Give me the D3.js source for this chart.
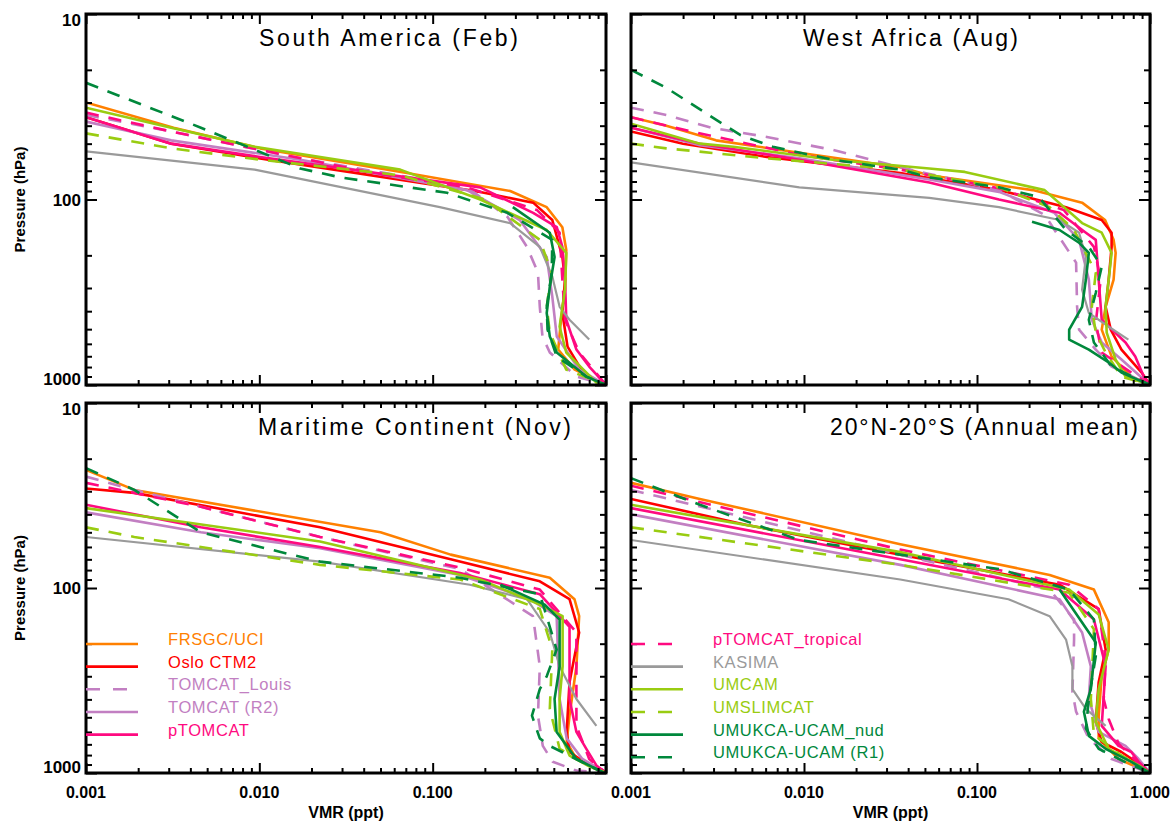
<!DOCTYPE html>
<html>
<head>
<meta charset="utf-8">
<script src="https://cdn.jsdelivr.net/npm/d3@7"></script>
<style>
  body { margin: 0; background: #fff; }
  text { font-family: "Liberation Sans", Arial, sans-serif; }
</style>
</head>
<body>
<div id="chart"></div>
<script>
//----------------------- data -----------------------
var seriesNames = ["FRSGC/UCI", "Oslo CTM2", "TOMCAT_Louis", "TOMCAT (R2)", "pTOMCAT",
  "pTOMCAT_tropical", "KASIMA", "UMCAM", "UMSLIMCAT", "UMUKCA-UCAM_nud", "UMUKCA-UCAM (R1)"];

var panelTitles = ["South America (Feb)", "West Africa (Aug)", "Maritime Continent (Nov)", "20°N-20°S (Annual mean)"];

var pressureTicks = [10, 100, 1000];
var vmrTicks = [0.001, 0.01, 0.1, 1];
var vmrTickLabels = ["0.001", "0.010", "0.100", "1.000"];

// profiles as [VMR (ppt), pressure (hPa)], same order as seriesNames
var southAmericaFeb = [
  [[0.001,30],[0.0032,41],[0.0101,53],[0.071,72],[0.28,90],[0.455,110],[0.56,141],[0.59,187],[0.58,306],[0.55,445],[0.53,644],[0.66,826],[1.0,1000]],
  [[0.001,36],[0.0031,50],[0.0101,60],[0.188,91],[0.38,104],[0.49,129],[0.56,204],[0.58,270],[0.56,409],[0.6,621],[0.75,879],[1.0,1000]],
  [[0.001,35],[0.0031,43],[0.0172,60],[0.158,86],[0.27,124],[0.35,180],[0.405,248],[0.415,379],[0.43,548],[0.474,668],[0.675,901],[1.0,1000]],
  [[0.001,38],[0.0031,48],[0.0172,61],[0.158,89],[0.318,129],[0.455,204],[0.49,334],[0.52,548],[0.7,826],[1.0,1000]],
  [[0.001,36],[0.0031,50],[0.0101,59],[0.188,86],[0.38,118],[0.52,141],[0.56,180],[0.58,270],[0.59,445],[0.675,644],[0.8,795],[1.0,1000]],
  [[0.001,34],[0.0031,43],[0.045,72],[0.158,86],[0.4,114],[0.54,151],[0.56,270],[0.58,445],[0.7,668],[1.0,1000]],
  [[0.001,55],[0.0094,69],[0.11,110],[0.28,134],[0.415,180],[0.49,260],[0.54,379],[0.616,445],[0.8,569]],
  [[0.001,32],[0.0031,41],[0.0094,52],[0.065,69],[0.188,100],[0.455,146],[0.59,194],[0.58,306],[0.54,485],[0.59,668],[0.88,970],[1.0,1000]],
  [[0.001,44],[0.0031,53],[0.0101,61],[0.065,74],[0.2,100],[0.415,165],[0.486,248],[0.455,379],[0.474,522],[0.59,826],[1.0,1000]],
  [[0.29,110],[0.474,151],[0.505,204],[0.474,295],[0.455,409],[0.474,548],[0.52,668],[0.77,901],[1.0,1000]],
  [[0.001,23.5],[0.0046,41],[0.0172,68],[0.0293,76],[0.121,92],[0.27,118],[0.49,165],[0.486,248],[0.455,379],[0.46,503],[0.52,703],[0.77,901],[1.0,1000]]
];

var westAfricaAug = [
  [[0.001,36],[0.0016,40],[0.0031,48],[0.0094,56],[0.036,67],[0.053,74],[0.21,89],[0.405,104],[0.55,129],[0.616,165],[0.633,194],[0.616,270],[0.554,379],[0.526,503],[0.6,703],[0.78,901],[1.0,1000]],
  [[0.001,43],[0.002,50],[0.0061,59],[0.036,72],[0.134,89],[0.327,110],[0.526,129],[0.6,151],[0.6,180],[0.577,270],[0.554,379],[0.593,503],[0.684,644],[0.895,857],[1.0,1000]],
  [[0.001,32],[0.0016,35],[0.0029,41],[0.0061,46],[0.0146,54],[0.036,67],[0.134,89],[0.246,121],[0.374,219],[0.379,379],[0.389,503],[0.486,644],[0.6,795],[1.0,1000]],
  [[0.001,41],[0.0025,51],[0.0094,60],[0.053,78],[0.134,91],[0.28,118],[0.389,165],[0.443,270],[0.461,445],[0.526,590],[0.684,729],[1.0,1000]],
  [[0.001,41],[0.0025,50],[0.0094,61],[0.053,81],[0.134,100],[0.3,118],[0.426,151],[0.486,165],[0.505,270],[0.526,445],[0.722,590],[0.822,703],[0.92,901],[1.0,1000]],
  [[0.001,36],[0.002,42],[0.0094,57.5],[0.036,69],[0.134,87],[0.318,114],[0.474,180],[0.519,270],[0.486,461],[0.526,668],[0.78,857],[1.0,1000]],
  [[0.001,63],[0.0094,86],[0.053,98],[0.134,110],[0.3,129],[0.389,151],[0.426,204],[0.405,306],[0.443,409],[0.577,485],[0.75,569]],
  [[0.001,39],[0.0025,50],[0.0039,52],[0.0146,61],[0.053,68],[0.085,71],[0.246,89],[0.405,134],[0.526,151],[0.6,194],[0.577,270],[0.554,379],[0.562,522],[0.633,729],[0.722,901],[1.0,1000]],
  [[0.001,50],[0.0016,53],[0.0061,60],[0.036,69],[0.134,86],[0.263,110],[0.364,146],[0.486,248],[0.461,379],[0.486,522],[0.554,668],[0.684,901],[1.0,1000]],
  [[0.208,132],[0.3,146],[0.389,171],[0.443,194],[0.426,270],[0.405,379],[0.341,503],[0.341,569],[0.443,644],[0.577,756],[0.684,857],[1.0,1000]],
  [[0.001,20],[0.0016,25],[0.003,36.4],[0.0043,45],[0.0066,52],[0.0146,61],[0.036,69],[0.053,76],[0.134,86],[0.228,97],[0.263,114],[0.327,146],[0.443,180],[0.526,230],[0.486,318],[0.443,445],[0.474,590],[0.6,795],[1.0,1000]]
];

var maritimeNov = [
  [[0.001,23],[0.0019,29.5],[0.05,50],[0.127,66],[0.474,88],[0.658,115],[0.7,142],[0.675,265],[0.616,490],[0.593,680],[0.675,840],[0.92,950],[1.0,1000]],
  [[0.001,29],[0.0019,30.6],[0.0224,47],[0.127,70],[0.415,92],[0.616,115],[0.7,174],[0.616,323],[0.593,600],[0.616,770],[0.8,910],[1.0,1000]],
  [[0.001,25],[0.0019,29.5],[0.0224,53],[0.144,79],[0.379,142],[0.415,265],[0.405,490],[0.432,714],[0.493,870],[0.675,970],[1.0,1000]],
  [[0.001,39],[0.0046,50],[0.0224,61],[0.144,85],[0.364,115],[0.519,142],[0.54,398],[0.593,650],[0.731,840],[1.0,1000]],
  [[0.001,35.5],[0.0046,47],[0.0224,60],[0.144,83],[0.415,108],[0.616,162],[0.616,398],[0.675,600],[0.77,740],[0.88,910],[1.0,1000]],
  [[0.001,27],[0.0046,36.4],[0.0224,53],[0.144,77.5],[0.415,102],[0.675,174],[0.675,556],[0.8,840],[1.0,1000]],
  [[0.001,53],[0.0224,72],[0.164,96],[0.35,115],[0.474,174],[0.54,265],[0.675,398],[0.88,556]],
  [[0.001,37],[0.0224,56],[0.188,90],[0.415,123],[0.562,142],[0.562,265],[0.54,398],[0.54,600],[0.616,805],[0.8,920],[1.0,1000]],
  [[0.001,47],[0.0019,53],[0.0224,75],[0.144,90],[0.415,130],[0.49,215],[0.474,450],[0.54,740],[0.8,920],[1.0,1000]],
  [[0.246,96],[0.443,123],[0.54,148],[0.54,265],[0.505,398],[0.519,600],[0.675,840],[0.956,990],[1.0,1000]],
  [[0.001,22.5],[0.0019,29.5],[0.0046,50],[0.0101,60],[0.0224,72],[0.144,88],[0.415,108],[0.474,162],[0.519,215],[0.455,300],[0.415,352],[0.374,490],[0.415,650],[0.474,714],[0.956,990],[1.0,1000]]
];

var tropicsAnnual = [
  [[0.001,27],[0.0025,33],[0.036,58],[0.263,85],[0.474,102],[0.577,153],[0.577,215],[0.526,300],[0.505,490],[0.505,650],[0.658,840],[1.0,1000]],
  [[0.001,33],[0.0046,45.5],[0.036,66],[0.3,96],[0.505,130],[0.554,215],[0.505,323],[0.486,530],[0.526,680],[0.684,770],[0.86,890],[1.0,1000]],
  [[0.001,29.5],[0.036,66],[0.263,102],[0.364,148],[0.364,190],[0.356,365],[0.374,466],[0.443,650],[0.6,840],[1.0,1000]],
  [[0.001,40],[0.036,75],[0.3,115],[0.405,174],[0.455,265],[0.443,398],[0.505,600],[0.722,714],[0.86,840],[1.0,1000]],
  [[0.001,37],[0.036,70],[0.3,102],[0.474,148],[0.554,265],[0.526,556],[0.658,714],[0.78,770],[0.86,870],[1.0,1000]],
  [[0.001,28],[0.036,62],[0.341,96],[0.505,130],[0.554,242],[0.54,398],[0.577,510],[0.658,695],[0.86,890],[1.0,1000]],
  [[0.001,55],[0.036,90],[0.152,115],[0.263,142],[0.327,190],[0.356,265],[0.356,352],[0.426,450],[0.554,556]],
  [[0.001,35.5],[0.036,64],[0.341,102],[0.505,139],[0.577,215],[0.505,352],[0.486,530],[0.577,740],[0.86,910],[1.0,1000]],
  [[0.001,47],[0.036,75],[0.341,106],[0.474,167],[0.455,398],[0.474,620],[0.658,785],[1.0,1000]],
  [[0.3,102],[0.486,197],[0.455,352],[0.415,466],[0.443,630],[0.554,740],[0.78,870],[1.0,1000]],
  [[0.001,25.5],[0.0025,35.5],[0.0094,55],[0.134,79],[0.341,102],[0.474,148],[0.486,233],[0.443,398],[0.426,576],[0.505,740],[0.75,890],[1.0,1000]]
];

var panelData = [southAmericaFeb, westAfricaAug, maritimeNov, tropicsAnnual];

//----------------------- styles -----------------------
var seriesColors = ["#ff8000", "#ff0000", "#c27fc2", "#c27fc2", "#ff0a80", "#ff0a80",
  "#9a9a9a", "#99cc11", "#99cc11", "#00883c", "#00883c"];
var seriesDashed = [false, false, true, false, false, true, false, false, true, false, true];

var W = 1175, H = 822;
var cols = [[86, 606], [631, 1150]];
var rows = [[14, 385], [403, 773]];
var titlePos = [[259, 259], [803, 215], [258, 313], [830, 308]];   // x start, text length

var svg = d3.select("#chart").append("svg")
    .attr("width", W).attr("height", H);

var xMinor = [], yMinor = [];
[0.001, 0.01, 0.1].forEach(function(d){ for (var k = 2; k < 10; k++) xMinor.push(d * k); });
[10, 100].forEach(function(d){ for (var k = 2; k < 10; k++) yMinor.push(d * k); });

panelData.forEach(function(profiles, i){
  var col = i % 2, row = Math.floor(i / 2);
  var x0 = cols[col][0], x1 = cols[col][1], y0 = rows[row][0], y1 = rows[row][1];

  var x = d3.scaleLog().domain([0.001, 1]).range([x0, x1]);
  var y = d3.scaleLog().domain([10, 1000]).range([y0, y1]);

  var g = svg.append("g");

  g.append("clipPath").attr("id", "clip" + i)
    .append("rect").attr("x", x0).attr("y", y0).attr("width", x1 - x0).attr("height", y1 - y0);

  var line = d3.line()
      .x(function(d){ return x(d[0]); })
      .y(function(d){ return y(d[1]); });

  // profiles
  g.append("g").attr("clip-path", "url(#clip" + i + ")")
    .selectAll("path")
    .data(profiles)
    .enter()
    .append("path")
      .attr("d", line)
      .attr("fill", "none")
      .attr("stroke", function(d, k){ return seriesColors[k]; })
      .attr("stroke-width", function(d, k){ return k == 6 ? 2.2 : 2.6; })
      .attr("stroke-dasharray", function(d, k){ return seriesDashed[k] ? "13,10" : null; })
      .attr("stroke-linejoin", "round");

  // ticks, all pointing inward
  function tickSet(axis, scale, values, size, tx, ty){
    g.append("g")
      .attr("transform", "translate(" + tx + "," + ty + ")")
      .call(axis(scale).tickValues(values).tickSize(size).tickFormat(""))
      .call(function(s){ s.select(".domain").remove(); })
      .selectAll("line").attr("stroke", "#000").attr("stroke-width", 2);
  }
  tickSet(d3.axisBottom, x, vmrTicks, -10, 0, y1);
  tickSet(d3.axisBottom, x, xMinor, -5, 0, y1);
  tickSet(d3.axisTop, x, vmrTicks, -10, 0, y0);
  tickSet(d3.axisTop, x, xMinor, -5, 0, y0);
  tickSet(d3.axisLeft, y, pressureTicks, -11, x0, 0);
  tickSet(d3.axisLeft, y, yMinor, -6, x0, 0);
  tickSet(d3.axisRight, y, pressureTicks, -11, x1, 0);
  tickSet(d3.axisRight, y, yMinor, -6, x1, 0);

  // frame
  g.append("rect")
    .attr("x", x0).attr("y", y0).attr("width", x1 - x0).attr("height", y1 - y0)
    .attr("fill", "none").attr("stroke", "#000").attr("stroke-width", 3);

  // title
  g.append("text")
    .attr("x", titlePos[i][0]).attr("y", y0 + 32)
    .attr("textLength", titlePos[i][1]).attr("lengthAdjust", "spacing")
    .style("font-size", "23px")
    .text(panelTitles[i]);

  // pressure labels on left panels
  if (col == 0) {
    g.selectAll(".ylab")
      .data(pressureTicks)
      .enter()
      .append("text")
        .attr("x", x0 - 5)
        .attr("y", function(d, k){ return y(d) + (k == 0 ? 12 : k == 1 ? 6 : 0); })
        .attr("text-anchor", "end")
        .style("font-size", "17px").style("font-weight", "bold")
        .text(function(d){ return d; });

    g.append("text")
      .attr("transform", "translate(" + 25 + "," + ((y0 + y1) / 2) + ")rotate(-90)")
      .attr("text-anchor", "middle")
      .style("font-size", "15px").style("font-weight", "bold")
      .text("Pressure (hPa)");
  }

  // VMR labels on bottom panels
  if (row == 1) {
    var shown = col == 0 ? vmrTicks.slice(0, 3) : vmrTicks;
    g.selectAll(".xlab")
      .data(shown)
      .enter()
      .append("text")
        .attr("x", function(d){ return x(d); })
        .attr("y", 798)
        .attr("text-anchor", "middle")
        .style("font-size", "16px").style("font-weight", "bold")
        .text(function(d, k){ return vmrTickLabels[k]; });

    g.append("text")
      .attr("x", (x0 + x1) / 2).attr("y", 818)
      .attr("text-anchor", "middle")
      .style("font-size", "16px").style("font-weight", "bold")
      .text("VMR (ppt)");

    // legend
    var idx = col == 0 ? [0, 1, 2, 3, 4] : [5, 6, 7, 8, 9, 10];
    var leg = g.selectAll(".leg")
      .data(idx)
      .enter()
      .append("g")
        .attr("transform", function(d, k){ return "translate(" + x0 + "," + (y0 + 241 + k * 22.65) + ")"; });
    leg.append("line")
      .attr("x1", 0).attr("x2", 52)
      .attr("stroke", function(d){ return seriesColors[d]; })
      .attr("stroke-width", 2.6)
      .attr("stroke-dasharray", function(d){ return seriesDashed[d] ? "14,13" : null; });
    leg.append("text")
      .attr("x", 82).attr("y", 1)
      .style("font-size", "16.5px").style("letter-spacing", "0.6px")
      .attr("fill", function(d){ return seriesColors[d]; })
      .text(function(d){ return seriesNames[d]; });
  }
});
</script>
</body>
</html>
